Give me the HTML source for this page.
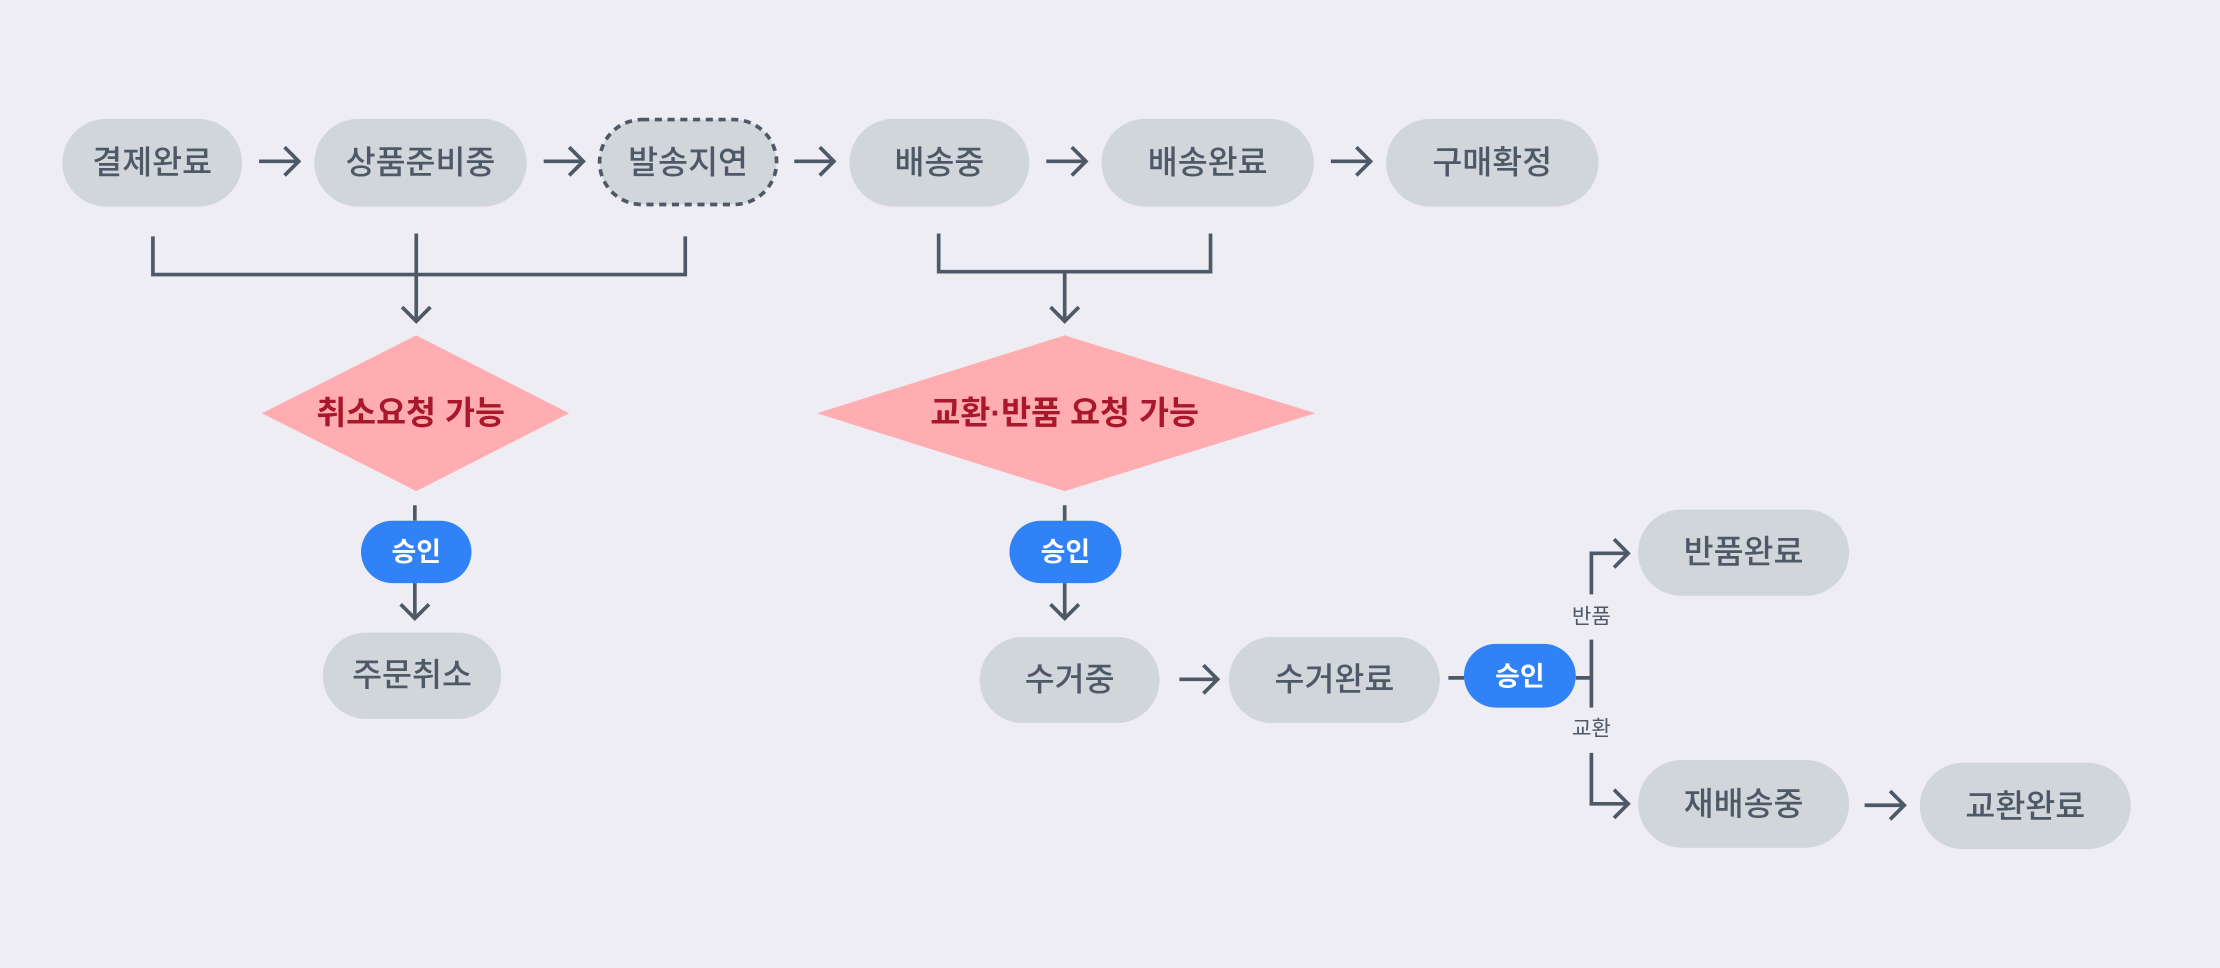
<!DOCTYPE html>
<html><head><meta charset="utf-8"><style>
html,body{margin:0;padding:0;background:#ededf3;width:2220px;height:968px;overflow:hidden}
svg{display:block}
text{font-family:"Liberation Sans","Noto Sans CJK KR",sans-serif;}
.n{fill:#d1d6db}
.t{fill:#4e5968;font-size:23px;font-weight:500;text-anchor:middle;dominant-baseline:central}
.l{stroke:#4e5968;stroke-width:2.6;fill:none}
.b{fill:#3182f6}
.bt{fill:#fff;font-size:19px;font-weight:bold;text-anchor:middle;dominant-baseline:central}
.d{fill:#ffadb1}
.dt{fill:#a8182a;font-size:23px;font-weight:bold;text-anchor:middle;dominant-baseline:central}
.s{fill:#4e5968;font-size:15px;text-anchor:middle;dominant-baseline:central}
</style></head><body>
<svg width="2220" height="968" viewBox="0 0 1568 684" preserveAspectRatio="none">
<rect width="1568" height="684" fill="#ededf3"/>
<rect class="n" x="44" y="84" width="127" height="62" rx="31"/><text class="t" x="107.5" y="115">결제완료</text>
<rect class="n" x="222" y="84" width="150" height="62" rx="31"/><text class="t" x="297" y="115">상품준비중</text>
<rect x="423.5" y="84.5" width="125" height="60" rx="30" fill="#d1d6db" stroke="#4e5968" stroke-width="2.6" stroke-dasharray="5,4"/><text class="t" x="486" y="115">발송지연</text>
<rect class="n" x="600" y="84" width="127" height="62" rx="31"/><text class="t" x="663.5" y="115">배송중</text>
<rect class="n" x="778" y="84" width="150" height="62" rx="31"/><text class="t" x="853" y="115">배송완료</text>
<rect class="n" x="979" y="84" width="150" height="62" rx="31"/><text class="t" x="1054" y="115">구매확정</text>
<g class="l">
<path d="M183 114H211M201 104L211 114L201 124"/>
<path d="M384 114H412M402 104L412 114L402 124"/>
<path d="M561 114H589M579 104L589 114L579 124"/>
<path d="M739 114H767M757 104L767 114L757 124"/>
<path d="M940 114H968M958 104L968 114L958 124"/>
<path d="M108 167V194H484V167M294 165V227M284 217L294 227L304 217"/>
<path d="M663 165V192H855V165M752 192V227M742 217L752 227L762 217"/>
<path d="M293 357V368M293 412V437M283 427L293 437L303 427"/>
<path d="M752 357V368M752 412V437M742 427L752 437L762 427"/>
<path d="M833 480H860M850 470L860 480L850 490"/>
<path d="M1023 479H1034M1113 479H1124"/>
<path d="M1124 420V391H1150M1140 381L1150 391L1140 401"/>
<path d="M1124 452V500"/>
<path d="M1124 532V568H1150M1140 558L1150 568L1140 578"/>
<path d="M1317 569H1345M1335 559L1345 569L1335 579"/>
</g>
<polygon class="d" points="294,237 402,292 294,347 185,292"/><text class="dt" x="290" y="292">취소요청 가능</text>
<polygon class="d" points="752,237 929,292 752,347 577,292"/><text class="dt" x="752" y="292">교환·반품 요청 가능</text>
<rect class="b" x="255" y="368" width="78" height="44" rx="22"/><text class="bt" x="294" y="390">승인</text>
<rect class="b" x="713" y="368" width="79" height="44" rx="22"/><text class="bt" x="752.5" y="390">승인</text>
<rect class="n" x="228" y="447" width="126" height="61" rx="30.5"/><text class="t" x="291" y="477">주문취소</text>
<rect class="n" x="692" y="450" width="127" height="61" rx="30.5"/><text class="t" x="755.5" y="480">수거중</text>
<rect class="n" x="868" y="450" width="149" height="61" rx="30.5"/><text class="t" x="942.5" y="480">수거완료</text>
<rect class="b" x="1034" y="455" width="79" height="45" rx="22.5"/><text class="bt" x="1073.5" y="478">승인</text>
<text class="s" x="1124" y="436">반품</text>
<text class="s" x="1124" y="515">교환</text>
<rect class="n" x="1157" y="360" width="149" height="61" rx="30.5"/><text class="t" x="1231.5" y="390">반품완료</text>
<rect class="n" x="1157" y="537" width="149" height="62" rx="31"/><text class="t" x="1231.5" y="568">재배송중</text>
<rect class="n" x="1356" y="539" width="149" height="61" rx="30.5"/><text class="t" x="1430.5" y="570">교환완료</text>
</svg>
</body></html>
